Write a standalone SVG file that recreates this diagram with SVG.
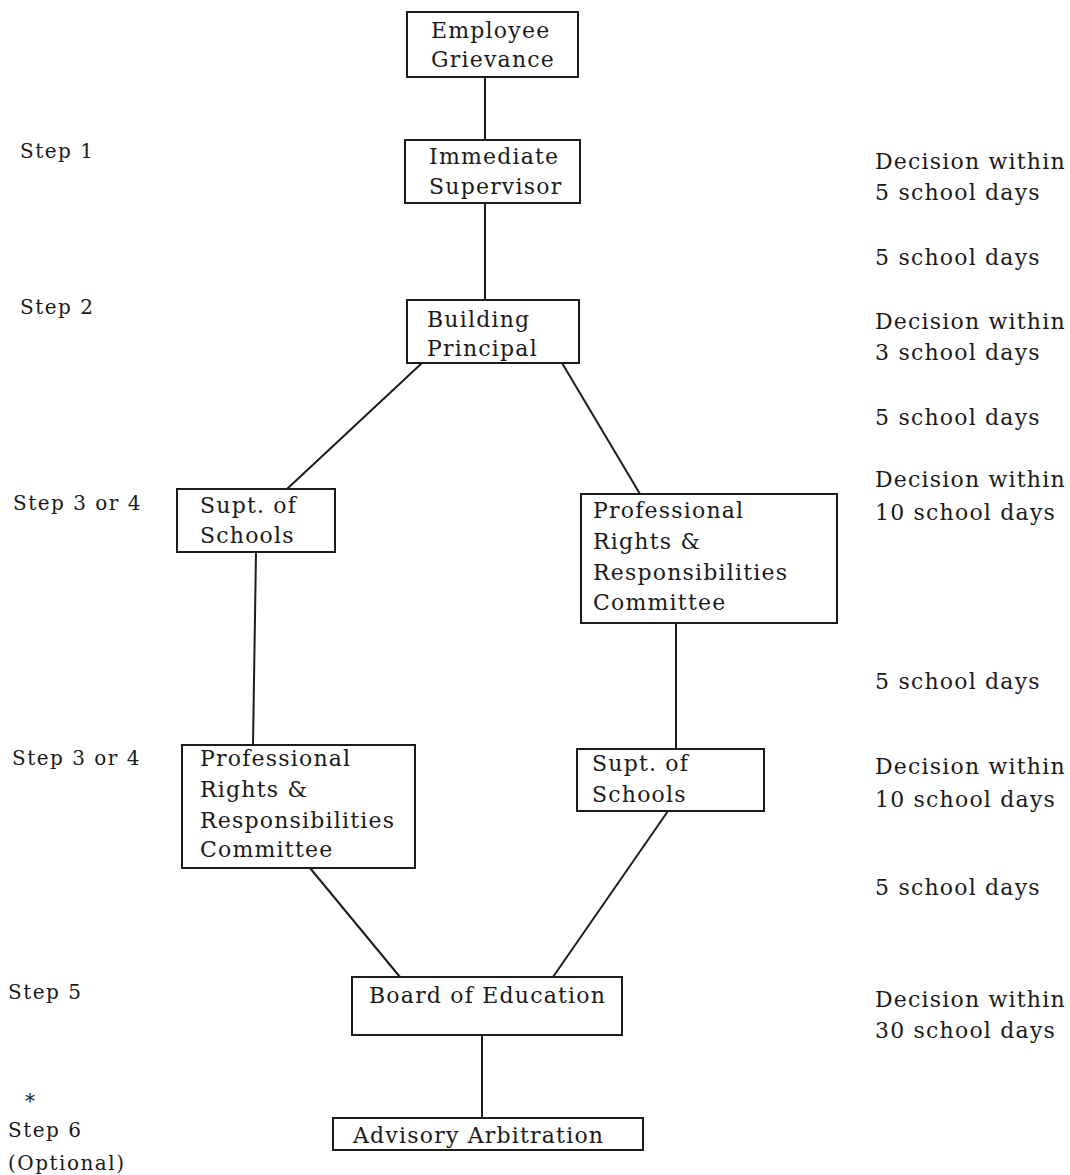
<svg xmlns="http://www.w3.org/2000/svg" width="1070" height="1175" viewBox="0 0 1070 1175">
<style>
.box{fill:none;stroke:#1c1c1c;stroke-width:2}
.ln{fill:none;stroke:#1c1c1c;stroke-width:2}
.t{font-family:"DejaVu Serif","Liberation Serif",serif;font-size:22px;fill:#1a1a1a;letter-spacing:1.2px}
.s{font-family:"DejaVu Serif","Liberation Serif",serif;font-size:20px;fill:#1a1a1a;letter-spacing:1.5px}
</style>
<rect width="1070" height="1175" fill="#ffffff"/>
<g id="connectors">
<line class="ln" x1="485" y1="77" x2="485" y2="140"/>
<line class="ln" x1="485" y1="203" x2="485" y2="300"/>
<line class="ln" x1="422" y1="363" x2="287" y2="489"/>
<line class="ln" x1="562" y1="363" x2="640" y2="494"/>
<line class="ln" x1="256" y1="552" x2="253" y2="745"/>
<line class="ln" x1="676" y1="623" x2="676" y2="749"/>
<line class="ln" x1="310" y1="868" x2="400" y2="977"/>
<line class="ln" x1="668" y1="811" x2="553" y2="977"/>
<line class="ln" x1="482" y1="1035" x2="482" y2="1118"/>
</g>
<g id="employee-grievance">
<rect class="box" x="407" y="12" width="171" height="65"/>
<text class="t" x="431" y="38">Employee</text>
<text class="t" x="431" y="67">Grievance</text>
</g>
<g id="immediate-supervisor">
<rect class="box" x="405" y="140" width="175" height="63"/>
<text class="t" x="429" y="164">Immediate</text>
<text class="t" x="429" y="194">Supervisor</text>
</g>
<g id="building-principal">
<rect class="box" x="407" y="300" width="172" height="63"/>
<text class="t" x="427" y="327">Building</text>
<text class="t" x="427" y="356">Principal</text>
</g>
<g id="supt-schools-left">
<rect class="box" x="177" y="489" width="158" height="63"/>
<text class="t" x="200" y="513">Supt. of</text>
<text class="t" x="200" y="543">Schools</text>
</g>
<g id="prr-committee-right">
<rect class="box" x="581" y="494" width="256" height="129"/>
<text class="t" x="593" y="518">Professional</text>
<text class="t" x="593" y="549">Rights &amp;</text>
<text class="t" x="593" y="580">Responsibilities</text>
<text class="t" x="593" y="610">Committee</text>
</g>
<g id="prr-committee-left">
<rect class="box" x="182" y="745" width="233" height="123"/>
<text class="t" x="200" y="766">Professional</text>
<text class="t" x="200" y="797">Rights &amp;</text>
<text class="t" x="200" y="828">Responsibilities</text>
<text class="t" x="200" y="857">Committee</text>
</g>
<g id="supt-schools-right">
<rect class="box" x="577" y="749" width="187" height="62"/>
<text class="t" x="592" y="771">Supt. of</text>
<text class="t" x="592" y="802">Schools</text>
</g>
<g id="board-of-education">
<rect class="box" x="352" y="977" width="270" height="58"/>
<text class="t" x="369" y="1003">Board of Education</text>
</g>
<g id="advisory-arbitration">
<rect class="box" x="333" y="1118" width="310" height="32"/>
<text class="t" x="353" y="1143">Advisory Arbitration</text>
</g>
<g id="step-labels">
<text class="s" x="20" y="158">Step 1</text>
<text class="s" x="20" y="314">Step 2</text>
<text class="s" x="13" y="510">Step 3 or 4</text>
<text class="s" x="12" y="765">Step 3 or 4</text>
<text class="s" x="8" y="999">Step 5</text>
<text class="s" x="25" y="1108">*</text>
<text class="s" x="8" y="1137">Step 6</text>
<text class="s" x="8" y="1170">(Optional)</text>
</g>
<g id="time-labels">
<text class="t" x="875" y="169">Decision within</text>
<text class="t" x="875" y="200">5 school days</text>
<text class="t" x="875" y="265">5 school days</text>
<text class="t" x="875" y="329">Decision within</text>
<text class="t" x="875" y="360">3 school days</text>
<text class="t" x="875" y="425">5 school days</text>
<text class="t" x="875" y="487">Decision within</text>
<text class="t" x="875" y="520">10 school days</text>
<text class="t" x="875" y="689">5 school days</text>
<text class="t" x="875" y="774">Decision within</text>
<text class="t" x="875" y="807">10 school days</text>
<text class="t" x="875" y="895">5 school days</text>
<text class="t" x="875" y="1007">Decision within</text>
<text class="t" x="875" y="1038">30 school days</text>
</g>
</svg>
